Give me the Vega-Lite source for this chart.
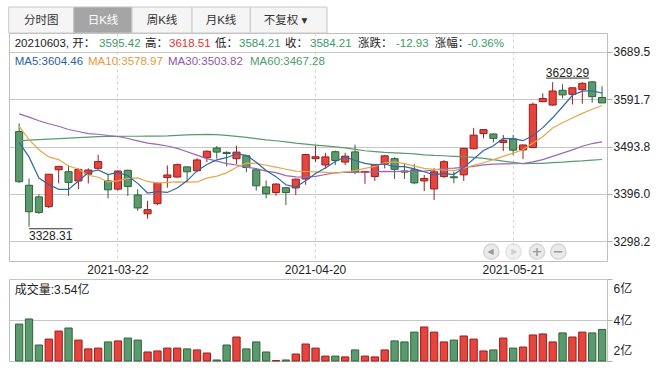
{
  "$schema": "https://vega.github.io/schema/vega-lite/v6.json",
  "background": "#ffffff",
  "padding": {"left": 7, "top": 6, "right": 0, "bottom": 0},
  "autosize": {"type": "pad"},
  "bounds": "flush",
  "spacing": 18,
  "config": {
    "font": "Liberation Sans, Noto Sans CJK SC, DejaVu Sans, sans-serif",
    "view": {"stroke": "#bfbfbf", "strokeWidth": 1},
    "axis": {"labelFontSize": 12, "labelColor": "#222222", "domain": false},
    "text": {"fontSize": 11.5}
  },
  "datasets": {
    "k": [
      {"d":"2021-03-08","o":3525,"h":3542,"l":3419,"c":3421.41,"v":3.80,"m5":3502.48,"m10":3535.84,"m30":3561.68,"m60":3506},
      {"d":"2021-03-09","o":3414,"h":3428,"l":3328.31,"c":3359.29,"v":4.05,"m5":3472.62,"m10":3508.13,"m30":3554.78,"m60":3507.5},
      {"d":"2021-03-10","o":3390,"h":3395,"l":3355,"c":3357.74,"v":2.78,"m5":3428.78,"m10":3487.49,"m30":3547.27,"m60":3508.5},
      {"d":"2021-03-11","o":3370,"h":3437.5,"l":3367,"c":3436.83,"v":3.07,"m5":3415.45,"m10":3472.67,"m30":3541.12,"m60":3509.5},
      {"d":"2021-03-12","o":3446,"h":3453.5,"l":3418,"c":3453.08,"v":3.46,"m5":3405.67,"m10":3467.07,"m30":3536.00,"m60":3510.5},
      {"d":"2021-03-15","o":3442,"h":3456,"l":3392,"c":3419.95,"v":3.61,"m5":3405.38,"m10":3453.93,"m30":3529.19,"m60":3511.5},
      {"d":"2021-03-16","o":3423,"h":3449,"l":3406,"c":3446.73,"v":3.02,"m5":3422.87,"m10":3447.75,"m30":3525.10,"m60":3512.5},
      {"d":"2021-03-17","o":3437,"h":3449,"l":3418,"c":3445.55,"v":2.59,"m5":3440.43,"m10":3434.61,"m30":3520.84,"m60":3513.5},
      {"d":"2021-03-18","o":3449,"h":3477,"l":3447,"c":3463.07,"v":2.63,"m5":3445.68,"m10":3430.57,"m30":3519.44,"m60":3514.5},
      {"d":"2021-03-19","o":3423,"h":3436,"l":3387,"c":3404.66,"v":2.93,"m5":3435.99,"m10":3420.83,"m30":3516.82,"m60":3515},
      {"d":"2021-03-22","o":3406,"h":3445,"l":3403,"c":3443.44,"v":2.98,"m5":3440.69,"m10":3423.04,"m30":3514.76,"m60":3515.2},
      {"d":"2021-03-23","o":3445,"h":3446,"l":3392,"c":3411.51,"v":3.12,"m5":3433.65,"m10":3428.26,"m30":3510.69,"m60":3515.3},
      {"d":"2021-03-24","o":3394,"h":3406,"l":3361,"c":3367.06,"v":3.02,"m5":3417.95,"m10":3429.19,"m30":3505.68,"m60":3515.3},
      {"d":"2021-03-25","o":3355,"h":3382,"l":3345,"c":3363.59,"v":2.44,"m5":3398.05,"m10":3421.87,"m30":3501.07,"m60":3515.4},
      {"d":"2021-03-26","o":3376,"h":3420,"l":3373,"c":3418.33,"v":2.49,"m5":3400.79,"m10":3418.39,"m30":3498.47,"m60":3515.6},
      {"d":"2021-03-29","o":3430,"h":3455,"l":3409,"c":3435.30,"v":2.63,"m5":3399.16,"m10":3419.93,"m30":3495.24,"m60":3516},
      {"d":"2021-03-30","o":3431,"h":3459,"l":3430,"c":3456.68,"v":2.63,"m5":3408.19,"m10":3420.92,"m30":3490.34,"m60":3517},
      {"d":"2021-03-31","o":3452,"h":3453,"l":3421,"c":3441.91,"v":2.59,"m5":3423.16,"m10":3420.56,"m30":3483.24,"m60":3518},
      {"d":"2021-04-01","o":3444,"h":3470,"l":3441,"c":3466.33,"v":2.54,"m5":3443.71,"m10":3420.88,"m30":3476.27,"m60":3518.8},
      {"d":"2021-04-02","o":3471,"h":3486,"l":3462,"c":3484.39,"v":2.39,"m5":3456.92,"m10":3428.86,"m30":3469.21,"m60":3519},
      {"d":"2021-04-06","o":3491,"h":3495,"l":3469,"c":3482.59,"v":2.05,"m5":3466.38,"m10":3432.77,"m30":3463.88,"m60":3518.5},
      {"d":"2021-04-07","o":3482,"h":3484,"l":3453,"c":3479.63,"v":2.78,"m5":3470.97,"m10":3439.58,"m30":3458.66,"m60":3517},
      {"d":"2021-04-08","o":3469,"h":3496,"l":3458,"c":3482.48,"v":3.17,"m5":3479.08,"m10":3451.12,"m30":3455.94,"m60":3515},
      {"d":"2021-04-09","o":3475,"h":3476,"l":3441,"c":3450.68,"v":2.59,"m5":3475.95,"m10":3459.83,"m30":3451.46,"m60":3513},
      {"d":"2021-04-12","o":3446,"h":3447,"l":3403,"c":3412.95,"v":2.93,"m5":3461.67,"m10":3459.30,"m30":3448.25,"m60":3510.5},
      {"d":"2021-04-13","o":3410.6,"h":3424,"l":3387,"c":3396.47,"v":2.44,"m5":3444.44,"m10":3455.41,"m30":3443.09,"m60":3508},
      {"d":"2021-04-14","o":3399,"h":3418,"l":3392.5,"c":3416.60,"v":2.02,"m5":3431.84,"m10":3451.41,"m30":3440.02,"m60":3506},
      {"d":"2021-04-15","o":3409,"h":3410,"l":3373,"c":3398.99,"v":2.05,"m5":3415.14,"m10":3447.11,"m30":3434.09,"m60":3503.5},
      {"d":"2021-04-16","o":3408.5,"h":3428,"l":3394,"c":3426.62,"v":2.34,"m5":3410.33,"m10":3443.14,"m30":3431.52,"m60":3501},
      {"d":"2021-04-19","o":3427,"h":3479,"l":3415,"c":3477.55,"v":2.83,"m5":3423.25,"m10":3442.46,"m30":3430.71,"m60":3499},
      {"d":"2021-04-20","o":3469,"h":3496,"l":3462,"c":3472.94,"v":2.63,"m5":3438.54,"m10":3441.49,"m30":3432.43,"m60":3497.08},
      {"d":"2021-04-21","o":3456,"h":3481,"l":3448,"c":3472.69,"v":2.24,"m5":3449.76,"m10":3440.80,"m30":3436.21,"m60":3495.51},
      {"d":"2021-04-22","o":3483.4,"h":3485.5,"l":3456,"c":3465.11,"v":2.24,"m5":3462.98,"m10":3439.06,"m30":3439.79,"m60":3493.55},
      {"d":"2021-04-23","o":3462,"h":3481,"l":3456,"c":3474.17,"v":2.20,"m5":3472.49,"m10":3441.41,"m30":3441.03,"m60":3491.10},
      {"d":"2021-04-26","o":3483,"h":3498,"l":3437,"c":3441.17,"v":2.54,"m5":3465.22,"m10":3444.24,"m30":3440.64,"m60":3488.34},
      {"d":"2021-04-27","o":3441,"h":3443.5,"l":3417,"c":3442.61,"v":2.24,"m5":3459.15,"m10":3448.85,"m30":3441.39,"m60":3485.31},
      {"d":"2021-04-28","o":3432,"h":3458,"l":3423,"c":3457.07,"v":2.20,"m5":3456.03,"m10":3452.90,"m30":3441.74,"m60":3483.44},
      {"d":"2021-04-29","o":3458,"h":3476,"l":3449,"c":3474.90,"v":2.54,"m5":3457.98,"m10":3460.48,"m30":3442.72,"m60":3481.80},
      {"d":"2021-04-30","o":3469,"h":3472,"l":3427,"c":3446.86,"v":2.98,"m5":3452.52,"m10":3462.51,"m30":3442.18,"m60":3480.82},
      {"d":"2021-05-06","o":3443.5,"h":3458,"l":3427,"c":3441.28,"v":2.93,"m5":3452.54,"m10":3458.88,"m30":3443.40,"m60":3480.13},
      {"d":"2021-05-07","o":3446,"h":3458,"l":3416,"c":3418.87,"v":3.41,"m5":3447.80,"m10":3453.48,"m30":3442.58,"m60":3478.69},
      {"d":"2021-05-10","o":3423,"h":3435.5,"l":3402,"c":3427.99,"v":3.66,"m5":3441.98,"m10":3449.01,"m30":3443.13,"m60":3476.93},
      {"d":"2021-05-11","o":3406.4,"h":3449.4,"l":3383.5,"c":3441.85,"v":3.41,"m5":3435.37,"m10":3446.68,"m30":3445.62,"m60":3475.67},
      {"d":"2021-05-12","o":3432,"h":3466,"l":3428.6,"c":3462.75,"v":2.93,"m5":3438.55,"m10":3445.54,"m30":3448.93,"m60":3475.02},
      {"d":"2021-05-13","o":3431.5,"h":3442.5,"l":3418,"c":3429.54,"v":3.02,"m5":3436.20,"m10":3444.37,"m30":3449.30,"m60":3473.90},
      {"d":"2021-05-14","o":3435.5,"h":3491,"l":3423,"c":3490.38,"v":3.22,"m5":3450.50,"m10":3449.15,"m30":3451.14,"m60":3473.20},
      {"d":"2021-05-17","o":3489.6,"h":3532.6,"l":3488,"c":3517.62,"v":3.07,"m5":3468.43,"m10":3455.21,"m30":3453.17,"m60":3471.77},
      {"d":"2021-05-18","o":3520.8,"h":3530,"l":3511,"c":3529.01,"v":2.49,"m5":3485.86,"m10":3460.62,"m30":3456.07,"m60":3469.67},
      {"d":"2021-05-19","o":3520,"h":3521,"l":3502.8,"c":3510.96,"v":2.54,"m5":3495.50,"m10":3467.03,"m30":3457.56,"m60":3466.93},
      {"d":"2021-05-20","o":3502.5,"h":3518,"l":3484.8,"c":3506.94,"v":3.12,"m5":3510.98,"m10":3473.59,"m30":3458.31,"m60":3463.78},
      {"d":"2021-05-21","o":3509.7,"h":3518,"l":3476.6,"c":3486.56,"v":2.63,"m5":3510.22,"m10":3480.36,"m30":3458.44,"m60":3461.18},
      {"d":"2021-05-24","o":3487,"h":3498,"l":3468.3,"c":3497.28,"v":2.68,"m5":3506.15,"m10":3487.29,"m30":3459.03,"m60":3458.86},
      {"d":"2021-05-25","o":3492,"h":3584.7,"l":3491,"c":3581.34,"v":3.27,"m5":3516.62,"m10":3501.24,"m30":3462.33,"m60":3459.15},
      {"d":"2021-05-26","o":3586.7,"h":3604,"l":3586,"c":3593.36,"v":3.32,"m5":3533.10,"m10":3514.30,"m30":3467.08,"m60":3459.28},
      {"d":"2021-05-27","o":3579.8,"h":3627,"l":3578,"c":3608.85,"v":2.93,"m5":3553.48,"m10":3532.23,"m30":3473.61,"m60":3460.95},
      {"d":"2021-05-28","o":3610.3,"h":3622.8,"l":3593.6,"c":3600.78,"v":3.37,"m5":3576.32,"m10":3543.27,"m30":3480.42,"m60":3461.77},
      {"d":"2021-05-31","o":3602,"h":3616.5,"l":3581,"c":3615.48,"v":3.17,"m5":3599.96,"m10":3553.06,"m30":3487.05,"m60":3463.55},
      {"d":"2021-06-01","o":3611.7,"h":3627,"l":3582.6,"c":3624.71,"v":3.41,"m5":3608.64,"m10":3562.63,"m30":3494.58,"m60":3464.35},
      {"d":"2021-06-02","o":3627.7,"h":3629.29,"l":3584.7,"c":3597.14,"v":3.37,"m5":3609.39,"m10":3571.25,"m30":3500.26,"m60":3465.91},
      {"d":"2021-06-03","o":3595.42,"h":3618.51,"l":3584.21,"c":3584.21,"v":3.54,"m5":3604.46,"m10":3578.97,"m30":3503.82,"m60":3467.28}
    ],
    "lo": [{"d":"2021-03-09","d2":"2021-03-15","p":3328.31,"t":"3328.31"}],
    "hi": [{"d":"2021-06-02","d2":"2021-05-27","p":3629.29,"t":"3629.29"}]
  },
  "vconcat": [
    {
      "width": 598,
      "height": 228,
      "layer": [
        {"data": {"values": [{}]}, "mark": {"type": "rect", "x": -0.3, "x2": 64.7, "y": -26, "y2": 0, "fill": "#f5f5f5", "stroke": "#c8c8c8"}, "encoding": {}},
        {"data": {"values": [{}]}, "mark": {"type": "rect", "x": 64.7, "x2": 123, "y": -26, "y2": 0, "fill": "#a5a5a5", "stroke": "#c8c8c8"}, "encoding": {}},
        {"data": {"values": [{}]}, "mark": {"type": "rect", "x": 123, "x2": 183, "y": -26, "y2": 0, "fill": "#f5f5f5", "stroke": "#c8c8c8"}, "encoding": {}},
        {"data": {"values": [{}]}, "mark": {"type": "rect", "x": 183, "x2": 241.3, "y": -26, "y2": 0, "fill": "#f5f5f5", "stroke": "#c8c8c8"}, "encoding": {}},
        {"data": {"values": [{}]}, "mark": {"type": "rect", "x": 241.3, "x2": 318, "y": -26, "y2": 0, "fill": "#f5f5f5", "stroke": "#c8c8c8"}, "encoding": {}},
        {"data": {"values": [{}]}, "mark": {"type": "text", "x": 32.2, "y": -12, "align": "center", "baseline": "middle", "text": "分时图", "fill": "#333333"}, "encoding": {}},
        {"data": {"values": [{}]}, "mark": {"type": "text", "x": 94, "y": -12, "align": "center", "baseline": "middle", "text": "日K线", "fill": "#ffffff"}, "encoding": {}},
        {"data": {"values": [{}]}, "mark": {"type": "text", "x": 153, "y": -12, "align": "center", "baseline": "middle", "text": "周K线", "fill": "#333333"}, "encoding": {}},
        {"data": {"values": [{}]}, "mark": {"type": "text", "x": 212, "y": -12, "align": "center", "baseline": "middle", "text": "月K线", "fill": "#333333"}, "encoding": {}},
        {"data": {"values": [{}]}, "mark": {"type": "text", "x": 276.5, "y": -12, "align": "center", "baseline": "middle", "text": "不复权 ▾", "fill": "#333333"}, "encoding": {}},

        {"data": {"values": [{}]}, "mark": {"type": "text", "x": 5.7, "y": 10.7, "align": "left", "baseline": "middle", "text": "20210603, 开：", "fill": "#222222"}, "encoding": {}},
        {"data": {"values": [{}]}, "mark": {"type": "text", "x": 90, "y": 10.7, "align": "left", "baseline": "middle", "text": "3595.42", "fill": "#3d9a69"}, "encoding": {}},
        {"data": {"values": [{}]}, "mark": {"type": "text", "x": 136, "y": 10.7, "align": "left", "baseline": "middle", "text": "高：", "fill": "#222222"}, "encoding": {}},
        {"data": {"values": [{}]}, "mark": {"type": "text", "x": 160, "y": 10.7, "align": "left", "baseline": "middle", "text": "3618.51", "fill": "#e8302c"}, "encoding": {}},
        {"data": {"values": [{}]}, "mark": {"type": "text", "x": 206, "y": 10.7, "align": "left", "baseline": "middle", "text": "低：", "fill": "#222222"}, "encoding": {}},
        {"data": {"values": [{}]}, "mark": {"type": "text", "x": 230, "y": 10.7, "align": "left", "baseline": "middle", "text": "3584.21", "fill": "#3d9a69"}, "encoding": {}},
        {"data": {"values": [{}]}, "mark": {"type": "text", "x": 276, "y": 10.7, "align": "left", "baseline": "middle", "text": "收：", "fill": "#222222"}, "encoding": {}},
        {"data": {"values": [{}]}, "mark": {"type": "text", "x": 301, "y": 10.7, "align": "left", "baseline": "middle", "text": "3584.21", "fill": "#3d9a69"}, "encoding": {}},
        {"data": {"values": [{}]}, "mark": {"type": "text", "x": 349, "y": 10.7, "align": "left", "baseline": "middle", "text": "涨跌：", "fill": "#222222"}, "encoding": {}},
        {"data": {"values": [{}]}, "mark": {"type": "text", "x": 387, "y": 10.7, "align": "left", "baseline": "middle", "text": "-12.93", "fill": "#3d9a69"}, "encoding": {}},
        {"data": {"values": [{}]}, "mark": {"type": "text", "x": 425.7, "y": 10.7, "align": "left", "baseline": "middle", "text": "涨幅：", "fill": "#222222"}, "encoding": {}},
        {"data": {"values": [{}]}, "mark": {"type": "text", "x": 458.5, "y": 10.7, "align": "left", "baseline": "middle", "text": "-0.36%", "fill": "#3d9a69"}, "encoding": {}},

        {"data": {"values": [{}]}, "mark": {"type": "text", "x": 5.7, "y": 29, "align": "left", "baseline": "middle", "text": "MA5:3604.46", "fill": "#2b5f9e"}, "encoding": {}},
        {"data": {"values": [{}]}, "mark": {"type": "text", "x": 79, "y": 29, "align": "left", "baseline": "middle", "text": "MA10:3578.97", "fill": "#e49a3a"}, "encoding": {}},
        {"data": {"values": [{}]}, "mark": {"type": "text", "x": 159, "y": 29, "align": "left", "baseline": "middle", "text": "MA30:3503.82", "fill": "#8e58a8"}, "encoding": {}},
        {"data": {"values": [{}]}, "mark": {"type": "text", "x": 241, "y": 29, "align": "left", "baseline": "middle", "text": "MA60:3467.28", "fill": "#4f9a6c"}, "encoding": {}},

        {"data": {"values": [{}]}, "mark": {"type": "point", "shape": "circle", "x": 482.3, "y": 218.7, "size": 230, "filled": true, "fill": "#e2e2e2", "stroke": "#c6c6c6", "strokeWidth": 1.5}, "encoding": {}},
        {"data": {"values": [{}]}, "mark": {"type": "point", "shape": "circle", "x": 504.5, "y": 218.7, "size": 230, "filled": true, "fill": "#ececec", "stroke": "#d8d8d8", "strokeWidth": 1.5}, "encoding": {}},
        {"data": {"values": [{}]}, "mark": {"type": "point", "shape": "circle", "x": 528, "y": 218.7, "size": 230, "filled": true, "fill": "#e2e2e2", "stroke": "#c6c6c6", "strokeWidth": 1.5}, "encoding": {}},
        {"data": {"values": [{}]}, "mark": {"type": "point", "shape": "circle", "x": 549.3, "y": 218.7, "size": 230, "filled": true, "fill": "#e2e2e2", "stroke": "#c6c6c6", "strokeWidth": 1.5}, "encoding": {}},
        {"data": {"values": [{}]}, "mark": {"type": "text", "x": 481.5, "y": 219, "align": "center", "baseline": "middle", "text": "◀", "font": "DejaVu Sans", "fontSize": 8, "fill": "#9a9a9a"}, "encoding": {}},
        {"data": {"values": [{}]}, "mark": {"type": "text", "x": 505.3, "y": 219, "align": "center", "baseline": "middle", "text": "▶", "font": "DejaVu Sans", "fontSize": 8, "fill": "#cfcfcf"}, "encoding": {}},
        {"data": {"values": [{}]}, "mark": {"type": "text", "x": 528, "y": 218.5, "align": "center", "baseline": "middle", "text": "+", "font": "DejaVu Sans", "fontSize": 13, "fontWeight": "bold", "fill": "#9a9a9a"}, "encoding": {}},
        {"data": {"values": [{}]}, "mark": {"type": "text", "x": 549.3, "y": 218.5, "align": "center", "baseline": "middle", "text": "−", "font": "DejaVu Sans", "fontSize": 13, "fontWeight": "bold", "fill": "#9a9a9a"}, "encoding": {}},

        {
          "data": {"name": "k"},
          "mark": {"type": "rule", "strokeWidth": 1},
          "encoding": {
            "x": {"field": "d", "type": "ordinal", "bandPosition": 0.5, "title": null,
                  "scale": {"type": "band", "paddingInner": 0, "paddingOuter": 0.263, "align": 1},
                  "axis": {"values": ["2021-03-22", "2021-04-20", "2021-05-21"], "grid": true, "gridColor": "#d4d4d4", "gridDash": [3, 3], "ticks": false, "labelPadding": 3, "labelAngle": 0, "bandPosition": 0.5}},
            "y": {"field": "l", "type": "quantitative", "title": null,
                  "scale": {"domain": [3257.5, 3728.7], "nice": false, "zero": false},
                  "axis": {"orient": "right", "values": [3298.2, 3396.0, 3493.8, 3591.7, 3689.5], "format": ".1f", "grid": true, "gridColor": "#c6c6c6", "tickSize": 5, "tickColor": "#b0b0b0", "labelPadding": 1}},
            "y2": {"field": "h"},
            "stroke": {"condition": {"test": "datum.c >= datum.o", "value": "#9b1d1d"}, "value": "#2e6437"}
          }
        },
        {
          "data": {"name": "k"},
          "mark": {"type": "bar", "width": {"band": 0.72}, "strokeWidth": 1},
          "encoding": {
            "x": {"field": "d", "type": "ordinal", "title": null, "scale": {"type": "band", "paddingInner": 0, "paddingOuter": 0.263, "align": 1}},
            "y": {"field": "o", "type": "quantitative", "title": null, "scale": {"domain": [3257.5, 3728.7], "nice": false, "zero": false}},
            "y2": {"field": "c"},
            "fill": {"condition": {"test": "datum.c >= datum.o", "value": "#e5453c"}, "value": "#5b9a6f"},
            "stroke": {"condition": {"test": "datum.c >= datum.o", "value": "#9b1d1d"}, "value": "#2e6437"}
          }
        },
        {
          "data": {"name": "k"},
          "mark": {"type": "line", "strokeWidth": 1.2, "color": "#5a9a6e"},
          "encoding": {
            "x": {"field": "d", "type": "ordinal", "bandPosition": 0.5, "title": null, "scale": {"type": "band", "paddingInner": 0, "paddingOuter": 0.263, "align": 1}},
            "y": {"field": "m60", "type": "quantitative", "title": null, "scale": {"domain": [3257.5, 3728.7], "nice": false, "zero": false}}
          }
        },
        {
          "data": {"name": "k"},
          "mark": {"type": "line", "strokeWidth": 1.2, "color": "#9b66b4"},
          "encoding": {
            "x": {"field": "d", "type": "ordinal", "bandPosition": 0.5, "title": null, "scale": {"type": "band", "paddingInner": 0, "paddingOuter": 0.263, "align": 1}},
            "y": {"field": "m30", "type": "quantitative", "title": null, "scale": {"domain": [3257.5, 3728.7], "nice": false, "zero": false}}
          }
        },
        {
          "data": {"name": "k"},
          "mark": {"type": "line", "strokeWidth": 1.2, "color": "#e8a64d"},
          "encoding": {
            "x": {"field": "d", "type": "ordinal", "bandPosition": 0.5, "title": null, "scale": {"type": "band", "paddingInner": 0, "paddingOuter": 0.263, "align": 1}},
            "y": {"field": "m10", "type": "quantitative", "title": null, "scale": {"domain": [3257.5, 3728.7], "nice": false, "zero": false}}
          }
        },
        {
          "data": {"name": "k"},
          "mark": {"type": "line", "strokeWidth": 1.2, "color": "#2e69a5"},
          "encoding": {
            "x": {"field": "d", "type": "ordinal", "bandPosition": 0.5, "title": null, "scale": {"type": "band", "paddingInner": 0, "paddingOuter": 0.263, "align": 1}},
            "y": {"field": "m5", "type": "quantitative", "title": null, "scale": {"domain": [3257.5, 3728.7], "nice": false, "zero": false}}
          }
        },
        {
          "data": {"name": "lo"},
          "mark": {"type": "rule", "strokeWidth": 1, "color": "#333333", "x2Offset": 4, "yOffset": 2},
          "encoding": {
            "x": {"field": "d", "type": "ordinal", "bandPosition": 0.5, "title": null, "scale": {"type": "band", "paddingInner": 0, "paddingOuter": 0.263, "align": 1}},
            "x2": {"field": "d2", "bandPosition": 0.5},
            "y": {"field": "p", "type": "quantitative", "title": null, "scale": {"domain": [3257.5, 3728.7], "nice": false, "zero": false}}
          }
        },
        {
          "data": {"name": "lo"},
          "mark": {"type": "text", "align": "left", "baseline": "top", "dy": 4, "fontSize": 12, "fill": "#222222"},
          "encoding": {
            "x": {"field": "d", "type": "ordinal", "bandPosition": 0.5, "title": null, "scale": {"type": "band", "paddingInner": 0, "paddingOuter": 0.263, "align": 1}},
            "y": {"field": "p", "type": "quantitative", "title": null, "scale": {"domain": [3257.5, 3728.7], "nice": false, "zero": false}},
            "text": {"field": "t"}
          }
        },
        {
          "data": {"name": "hi"},
          "mark": {"type": "rule", "strokeWidth": 1, "color": "#333333", "xOffset": -3, "x2Offset": -6.5, "yOffset": -3},
          "encoding": {
            "x": {"field": "d", "type": "ordinal", "bandPosition": 0.5, "title": null, "scale": {"type": "band", "paddingInner": 0, "paddingOuter": 0.263, "align": 1}},
            "x2": {"field": "d2", "bandPosition": 0.5},
            "y": {"field": "p", "type": "quantitative", "title": null, "scale": {"domain": [3257.5, 3728.7], "nice": false, "zero": false}}
          }
        },
        {
          "data": {"name": "hi"},
          "mark": {"type": "text", "align": "right", "baseline": "alphabetic", "dx": -3, "dy": -4.5, "fontSize": 12, "fill": "#222222"},
          "encoding": {
            "x": {"field": "d", "type": "ordinal", "bandPosition": 0.5, "title": null, "scale": {"type": "band", "paddingInner": 0, "paddingOuter": 0.263, "align": 1}},
            "y": {"field": "p", "type": "quantitative", "title": null, "scale": {"domain": [3257.5, 3728.7], "nice": false, "zero": false}},
            "text": {"field": "t"}
          }
        }
      ]
    },
    {
      "width": 598,
      "height": 82,
      "layer": [
        {
          "data": {"name": "k"},
          "mark": {"type": "bar", "width": {"band": 0.74}, "strokeWidth": 1},
          "encoding": {
            "x": {"field": "d", "type": "ordinal", "title": null, "scale": {"type": "band", "paddingInner": 0, "paddingOuter": 0.263, "align": 1}, "axis": null},
            "y": {"field": "v", "type": "quantitative", "title": null,
                  "scale": {"domain": [2, 6], "nice": false, "zero": false},
                  "axis": {"orient": "right", "values": [2, 4, 6], "labelExpr": "datum.value + '亿'", "grid": true, "gridColor": "#c6c6c6", "tickSize": 5, "tickColor": "#b0b0b0", "labelPadding": 1, "labelFlush": true, "labelFlushOffset": -4}},
            "y2": {"datum": 2},
            "fill": {"condition": {"test": "datum.c >= datum.o", "value": "#e5453c"}, "value": "#5b9a6f"},
            "stroke": {"condition": {"test": "datum.c >= datum.o", "value": "#9b1d1d"}, "value": "#2e6437"}
          }
        },
        {"data": {"values": [{}]}, "mark": {"type": "text", "x": 5.7, "y": 11, "align": "left", "baseline": "middle", "text": "成交量:3.54亿", "fontSize": 12, "fill": "#222222"}, "encoding": {}}
      ]
    }
  ]
}
